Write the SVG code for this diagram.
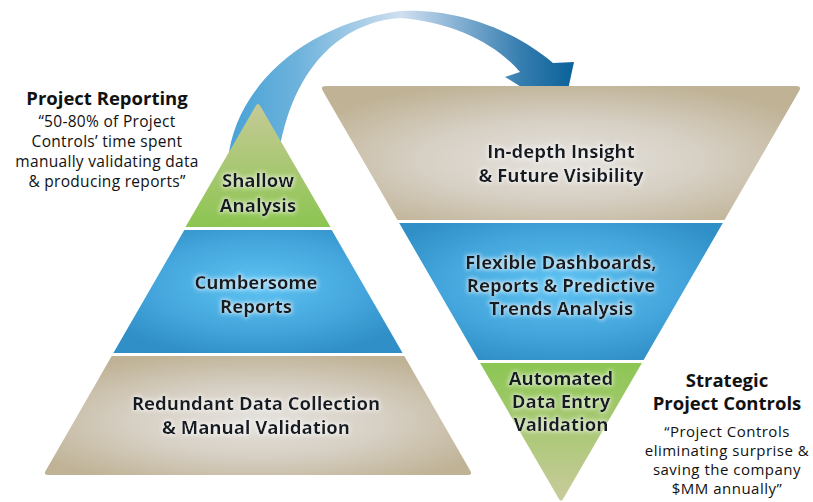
<svg xmlns="http://www.w3.org/2000/svg" width="813" height="502" viewBox="0 0 813 502">
<style>
  .lbl { font-family: "Open Sans", "Liberation Sans", sans-serif; font-weight: 700; font-size: 18.5px; fill: #141a24; text-anchor: middle; }
  .head { font-family: "Open Sans", "Liberation Sans", sans-serif; font-weight: 700; font-size: 18.5px; fill: #111111; text-anchor: middle; }
  .quote { font-family: "Open Sans", "Liberation Sans", sans-serif; font-weight: 400; font-size: 15.5px; letter-spacing: 0.3px; fill: #111111; text-anchor: middle; }
  .quote2 { font-family: "Open Sans", "Liberation Sans", sans-serif; font-weight: 400; font-size: 15px; letter-spacing: 0.5px; fill: #111111; text-anchor: middle; }
</style>
<defs>
  <radialGradient id="tan" cx="0.5" cy="0.55" r="0.6">
    <stop offset="0" stop-color="#e5e2de"/>
    <stop offset="0.5" stop-color="#d6cfc3"/>
    <stop offset="1" stop-color="#bfb295"/>
  </radialGradient>
  <radialGradient id="blue" cx="0.5" cy="0.45" r="0.6">
    <stop offset="0" stop-color="#5ec3f3"/>
    <stop offset="0.6" stop-color="#44a6dc"/>
    <stop offset="1" stop-color="#2f8fc6"/>
  </radialGradient>
  <linearGradient id="greenUp" x1="0" y1="0" x2="0" y2="1">
    <stop offset="0" stop-color="#c6ca96"/>
    <stop offset="1" stop-color="#8cc551"/>
  </linearGradient>
  <linearGradient id="greenDown" x1="0" y1="0" x2="0" y2="1">
    <stop offset="0" stop-color="#8cc653"/>
    <stop offset="1" stop-color="#c9cb9b"/>
  </linearGradient>
  <linearGradient id="arrowGrad" gradientUnits="userSpaceOnUse" x1="228" y1="0" x2="575" y2="0">
    <stop offset="0" stop-color="#47a2d6"/>
    <stop offset="0.2" stop-color="#6db2dc"/>
    <stop offset="0.5" stop-color="#cfdfef"/>
    <stop offset="0.66" stop-color="#86b1d4"/>
    <stop offset="0.85" stop-color="#337cae"/>
    <stop offset="1" stop-color="#0a6199"/>
  </linearGradient>
  <filter id="glow" x="-15%" y="-30%" width="130%" height="160%">
    <feMorphology in="SourceAlpha" operator="dilate" radius="1" result="d"/>
    <feGaussianBlur in="d" stdDeviation="2" result="b"/>
    <feFlood flood-color="#ffffff" flood-opacity="0.6"/>
    <feComposite in2="b" operator="in" result="g"/>
    <feMerge><feMergeNode in="g"/><feMergeNode in="SourceGraphic"/></feMerge>
  </filter>
</defs>

<g id="connectors">
  <path id="curved-arrow" fill="url(#arrowGrad)" d="M 228 160 C 235 90, 300 25, 400 11 C 465 8, 520 35, 553 63 L 574 62 L 563 113 L 505 77 L 520 72 C 497 45, 455 22, 400 18 C 340 22, 290 70, 278 160 Z"/>
</g>

<g id="left-shallow-analysis">
  <path fill="url(#greenUp)" d="M 255.1 107 Q 258 101 260.9 107 L 330.5 227 L 185.5 227 Z"/>
  <g filter="url(#glow)">
    <text class="lbl" x="258" y="187">Shallow</text>
    <text class="lbl" x="258" y="212">Analysis</text>
  </g>
</g>

<g id="left-cumbersome-reports">
  <path fill="url(#blue)" d="M 184.3 230 L 331.7 230 L 402.6 353 L 113.4 353 Z"/>
  <g filter="url(#glow)">
    <text class="lbl" x="256" y="289">Cumbersome</text>
    <text class="lbl" x="256" y="313">Reports</text>
  </g>
</g>

<g id="left-redundant-data">
  <path fill="url(#tan)" d="M 111.7 356 L 404.3 356 L 470.3 470.7 Q 472.8 475 467.8 475 L 48.2 475 Q 43.2 475 45.7 470.7 Z"/>
  <g filter="url(#glow)">
    <text class="lbl" x="256" y="410">Redundant Data Collection</text>
    <text class="lbl" x="256" y="434">&amp; Manual Validation</text>
  </g>
</g>

<g id="right-indepth-insight">
  <path fill="url(#tan)" d="M 326 86 L 796 86 Q 802 86 799.1 91 L 724.5 220 L 397.5 220 L 322.9 91 Q 320 86 326 86 Z"/>
  <g filter="url(#glow)">
    <text class="lbl" x="561" y="158">In-depth Insight</text>
    <text class="lbl" x="561" y="182">&amp; Future Visibility</text>
  </g>
</g>

<g id="right-flexible-dashboards">
  <path fill="url(#blue)" d="M 399.2 223 L 722.8 223 L 643.6 360 L 478.4 360 Z"/>
  <g filter="url(#glow)">
    <text class="lbl" x="561" y="269">Flexible Dashboards,</text>
    <text class="lbl" x="561" y="292">Reports &amp; Predictive</text>
    <text class="lbl" x="561" y="315">Trends Analysis</text>
  </g>
</g>

<g id="right-automated-validation">
  <path fill="url(#greenDown)" d="M 480.1 363 L 641.9 363 L 563.5 498.3 Q 561 503 558.5 498.3 Z"/>
  <g filter="url(#glow)">
    <text class="lbl" x="561" y="385">Automated</text>
    <text class="lbl" x="561" y="408">Data Entry</text>
    <text class="lbl" x="561" y="431">Validation</text>
  </g>
</g>

<g id="label-project-reporting">
  <text class="head" x="107" y="105">Project Reporting</text>
  <text class="quote" x="107" y="127">“50-80% of Project</text>
  <text class="quote" x="107" y="147">Controls’ time spent</text>
  <text class="quote" x="107" y="167">manually validating data</text>
  <text class="quote" x="107" y="187">&amp; producing reports”</text>
</g>

<g id="label-strategic-project-controls">
  <text class="head" x="727" y="387">Strategic</text>
  <text class="head" x="727" y="410">Project Controls</text>
  <text class="quote2" x="727" y="437">“Project Controls</text>
  <text class="quote2" x="727" y="456">eliminating surprise &amp;</text>
  <text class="quote2" x="727" y="475">saving the company</text>
  <text class="quote2" x="727" y="494">$MM annually”</text>
</g>
</svg>
